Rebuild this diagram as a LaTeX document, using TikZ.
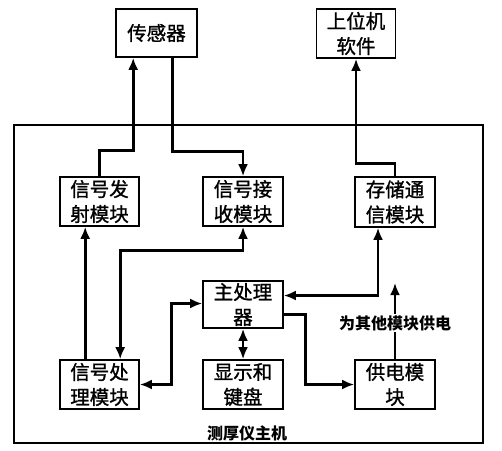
\documentclass[tikz,border=0pt]{standalone}
\usepackage{fontspec}
\newfontfamily\cjk{Noto Sans CJK SC}
\newfontfamily\cjkm{Noto Sans CJK SC}[FakeBold=1.2]
\usetikzlibrary{arrows.meta,calc}
\begin{document}
\begin{tikzpicture}[x=1pt,y=-1pt,
  box/.style={draw,line width=1.6pt,inner sep=0pt,align=center,font=\cjkm\fontsize{19.5}{25}\selectfont},
  arr/.style={line width=2.8pt,-{Latex[length=12pt,width=10pt]}},
  arrb/.style={line width=2.8pt,{Latex[length=12pt,width=10pt]}-{Latex[length=12pt,width=10pt]}},
  lab/.style={font=\cjk\bfseries\fontsize{16}{18}\selectfont,inner sep=1pt}]
\useasboundingbox (0,0) rectangle (502,450);
\node[draw,line width=1.6pt,minimum width=469pt,minimum height=318pt,inner sep=0pt] (outer) at (248.5,284) {};
\node[box,minimum width=81pt,minimum height=48pt] (sensor) at (156.5,33) {传感器};
\node[box,minimum width=79pt,minimum height=49pt] (host) at (356,33.5) {上位机\\软件};
\node[box,minimum width=79pt,minimum height=49pt] (emit) at (99.5,201.5) {信号发\\射模块};
\node[box,minimum width=80pt,minimum height=49pt] (recv) at (243,201.5) {信号接\\收模块};
\node[box,minimum width=80pt,minimum height=50pt] (store) at (395,202) {存储通\\信模块};
\node[box,minimum width=80pt,minimum height=47pt] (cpu) at (243,304.5) {主处理\\器};
\node[box,minimum width=80pt,minimum height=49pt] (disp) at (243,384.5) {显示和\\键盘};
\node[box,minimum width=79pt,minimum height=49pt] (proc) at (99.5,384.5) {信号处\\理模块};
\node[box,minimum width=80pt,minimum height=49pt] (power) at (395,384.5) {供电模\\块};
\coordinate (pwtop) at (395,283);
% connectors
\draw[arr] (emit.north) -- ++(0,-26) -| ([xshift=18pt]sensor.south west);
\draw[arr] ([xshift=-25pt]sensor.south east) -- ++(0,94) -| (recv.north);
\draw[arr] (store.north) -- ++(0,-13) -| (host.south);
\draw[arr] ([xshift=26pt]proc.north west) -- ([xshift=26pt]emit.south west);
\draw[arrb] (recv.south) -- ++(0,24) -| ([xshift=61pt]proc.north west);
\draw[arrb] ([yshift=1pt]cpu.west) -- ++(-31,0) |- (proc.east);
\draw[arrb] (cpu.south) -- (disp.north);
\draw[arr] ([yshift=-10pt]cpu.east) -- ++(22,0) |- (power.west);
\draw[arrb] ([yshift=9pt]cpu.east) -| ([xshift=-17pt]store.south);
\draw[arr] (power.north) -- (pwtop);
\node[lab,fill=white] (pwlab) at (395,323) {为其他模块供电};
\node[lab] (title) at (247,433) {测厚仪主机};
\end{tikzpicture}
\end{document}
